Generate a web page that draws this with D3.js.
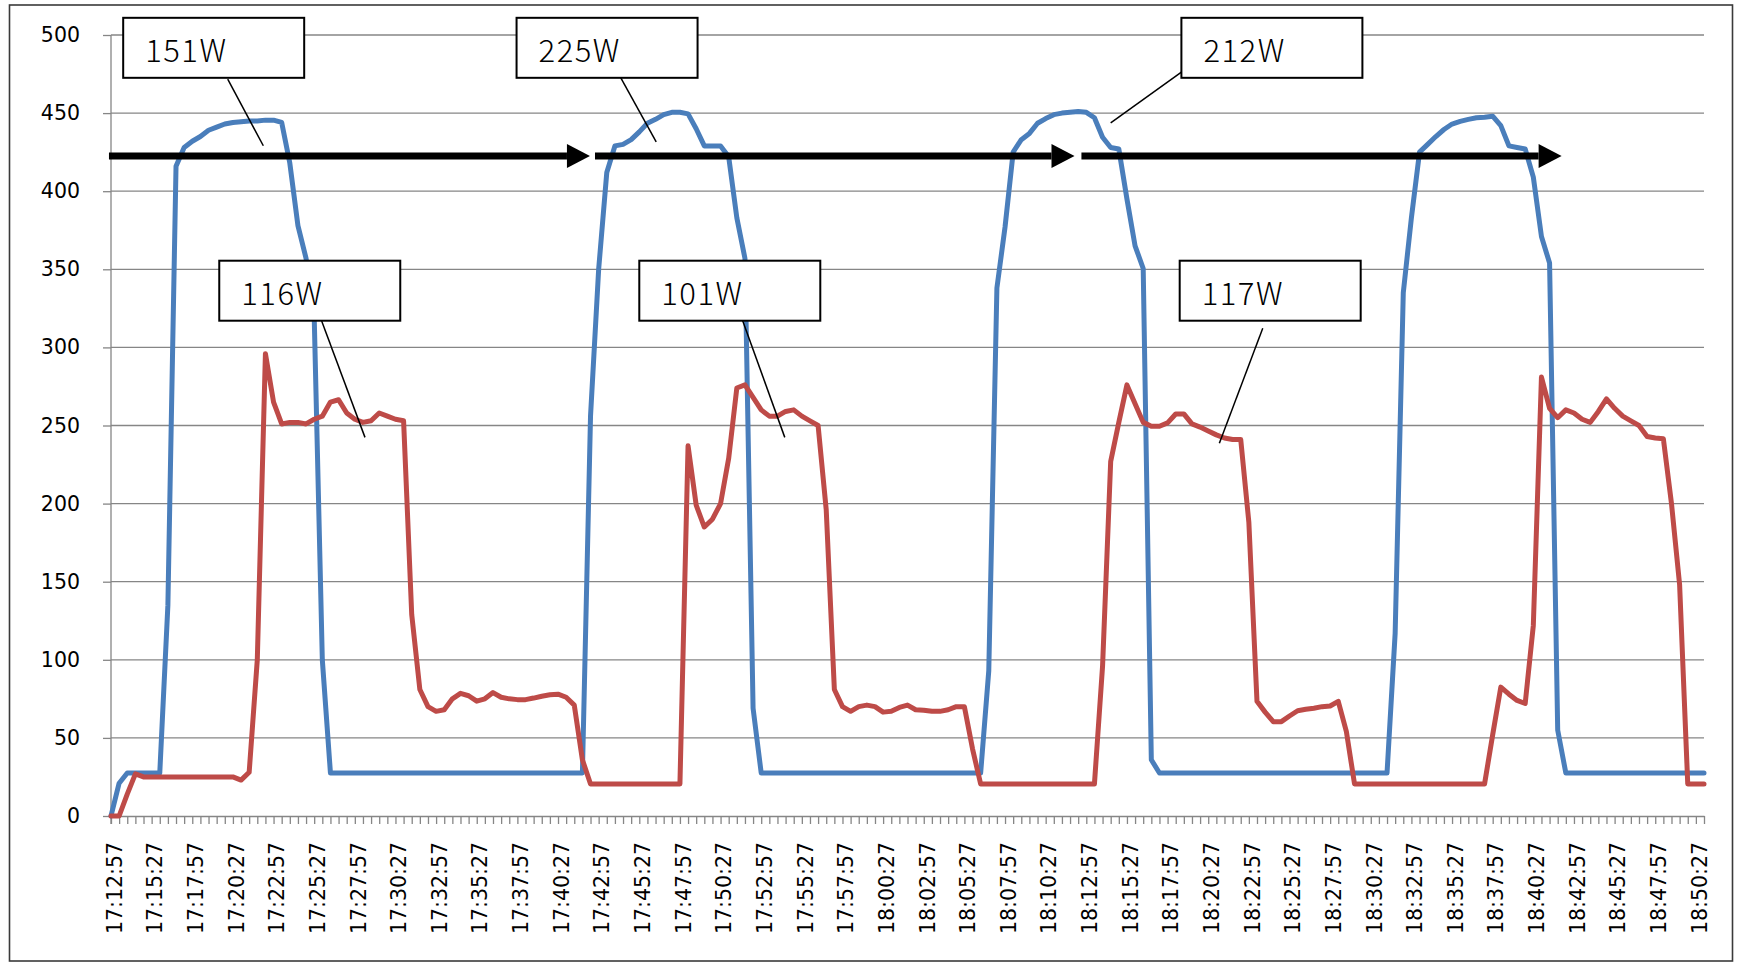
<!DOCTYPE html>
<html>
<head>
<meta charset="utf-8">
<script src="https://cdn.jsdelivr.net/npm/d3@7"></script>
<style>
html, body { margin: 0; padding: 0; background: #fff; }
svg { display: block; }
.axis text { font-family: "DejaVu Sans", sans-serif; font-size: 20.5px; fill: #000; }
.axis path, .axis line { stroke: #868686; stroke-width: 1.3px; }
.callout text { font-family: "Noto Sans CJK JP", sans-serif; font-weight: 300; font-size: 31px; fill: #000; letter-spacing: 1.5px; }
</style>
</head>
<body>
<svg id="chart" width="1738" height="963"></svg>
<script>
// one sample every 30 s, 17:12:57 .. 18:50:57
var tickLabels = ["17:12:57","17:15:27","17:17:57","17:20:27","17:22:57","17:25:27","17:27:57","17:30:27",
  "17:32:57","17:35:27","17:37:57","17:40:27","17:42:57","17:45:27","17:47:57","17:50:27","17:52:57",
  "17:55:27","17:57:57","18:00:27","18:02:57","18:05:27","18:07:57","18:10:27","18:12:57","18:15:27",
  "18:17:57","18:20:27","18:22:57","18:25:27","18:27:57","18:30:27","18:32:57","18:35:27","18:37:57",
  "18:40:27","18:42:57","18:45:27","18:47:57","18:50:27"];

var yTicks = [0, 50, 100, 150, 200, 250, 300, 350, 400, 450, 500];

var blue = [
  0, 21, 27.5, 27.5, 27.5, 27.5, 27.5, 135, 416, 428,
  432, 435, 439, 441, 443, 444, 444.5, 445, 445, 445.5,
  445.5, 444, 418, 378, 357, 320, 100, 27.5, 27.5, 27.5,
  27.5, 27.5, 27.5, 27.5, 27.5, 27.5, 27.5, 27.5, 27.5, 27.5,
  27.5, 27.5, 27.5, 27.5, 27.5, 27.5, 27.5, 27.5, 27.5, 27.5,
  27.5, 27.5, 27.5, 27.5, 27.5, 27.5, 27.5, 27.5, 27.5, 256,
  350, 412, 429, 430, 433, 438, 443.5, 446, 449, 450.5,
  450.5, 449.5, 440, 429, 429, 429, 422, 383, 357, 69,
  27.5, 27.5, 27.5, 27.5, 27.5, 27.5, 27.5, 27.5, 27.5, 27.5,
  27.5, 27.5, 27.5, 27.5, 27.5, 27.5, 27.5, 27.5, 27.5, 27.5,
  27.5, 27.5, 27.5, 27.5, 27.5, 27.5, 27.5, 27.5, 93, 338,
  377, 425, 433, 437, 443.5, 446.5, 449, 450, 450.5, 451,
  450.5, 447, 434.5, 428, 427, 395, 365, 350.5, 36, 27.5,
  27.5, 27.5, 27.5, 27.5, 27.5, 27.5, 27.5, 27.5, 27.5, 27.5,
  27.5, 27.5, 27.5, 27.5, 27.5, 27.5, 27.5, 27.5, 27.5, 27.5,
  27.5, 27.5, 27.5, 27.5, 27.5, 27.5, 27.5, 27.5, 117, 335,
  383, 425, 430, 435, 439.5, 443, 444.7, 446, 447, 447.4,
  448, 442, 429, 428, 427, 409, 371, 354, 55, 27.5,
  27.5, 27.5, 27.5, 27.5, 27.5, 27.5, 27.5, 27.5, 27.5, 27.5,
  27.5, 27.5, 27.5, 27.5, 27.5, 27.5, 27.5
];

var red = [
  0, 0, 14, 27, 25, 25, 25, 25, 25, 25,
  25, 25, 25, 25, 25, 25, 23, 28, 100, 296,
  265, 251, 252, 252, 251, 254, 256, 265, 266.5, 258,
  254, 252, 253, 258, 256, 254, 253, 129, 81, 70,
  67, 68, 75, 78.5, 77, 73.5, 75, 79, 76, 75,
  74.5, 74.5, 75.5, 76.7, 77.6, 78, 76, 71, 36, 20.5,
  20.5, 20.5, 20.5, 20.5, 20.5, 20.5, 20.5, 20.5, 20.5, 20.5,
  20.5, 237, 199, 185, 190, 200, 229, 274, 276, 268,
  260, 256, 256, 259, 260, 256, 253, 250, 196, 81,
  70, 67, 70, 71, 70, 66.5, 67, 69.5, 71, 68,
  67.7, 67, 67, 68, 70, 70, 43, 20.5, 20.5, 20.5,
  20.5, 20.5, 20.5, 20.5, 20.5, 20.5, 20.5, 20.5, 20.5, 20.5,
  20.5, 20.5, 96, 227, 252, 276, 264, 252, 249.5, 249.5,
  251.7, 257.4, 257.4, 251, 249, 246.5, 244, 242, 241, 241,
  188, 73.4, 66.5, 60.4, 60.4, 64, 67.4, 68.3, 69, 70,
  70.4, 73.4, 54, 20.5, 20.5, 20.5, 20.5, 20.5, 20.5, 20.5,
  20.5, 20.5, 20.5, 20.5, 20.5, 20.5, 20.5, 20.5, 20.5, 20.5,
  52, 82.5, 78, 74, 72, 122, 281, 261, 255, 260,
  258, 254, 252, 259, 267, 261, 256, 253, 250, 243,
  242, 241.5, 200, 148, 20.5, 20.5, 20.5
];

// drawn-on annotations, anchored in data units (sample index, watts)
var callouts = [
  {text: "151W", i: 1.5,    v: 511, from: [14.36, 471.8], to: [18.74, 429.1]},
  {text: "225W", i: 49.9,   v: 511, from: [62.71, 472.7], to: [67.08, 431.6]},
  {text: "212W", i: 131.7,  v: 511, from: [131.7, 476.3], to: [123.0, 443.7]},
  {text: "116W", i: 13.32,  v: 355.5, from: [25.92, 316.9], to: [31.25, 242.4]},
  {text: "101W", i: 65.0,   v: 355.5, from: [77.72, 317.1], to: [82.9, 242.4]},
  {text: "117W", i: 131.49, v: 355.5, from: [141.71, 312.2], to: [136.37, 238.6]}
];
var arrows = [
  {start: -0.25, end: 58.93, v: 422.5},
  {start: 59.55, end: 118.55, v: 422.5},
  {start: 119.4, end: 178.48, v: 422.5}
];

var svg = d3.select("#chart");
var plotLeft = 111, plotRight = 1704, plotTop = 35, plotBottom = 816;

var x = d3.scaleLinear().domain([0, blue.length - 1]).range([plotLeft, plotRight]);
var y = d3.scaleLinear().domain([0, 500]).range([plotBottom, plotTop]);

// outer frame
svg.append("rect")
  .attr("x", 9.5).attr("y", 5)
  .attr("width", 1723).attr("height", 956)
  .attr("fill", "#fff")
  .attr("stroke", "#3a3a3a")
  .attr("stroke-width", 1.6);

// horizontal gridlines
svg.append("g")
  .selectAll("line")
  .data(yTicks.slice(1))
  .enter().append("line")
  .attr("x1", plotLeft).attr("x2", plotRight)
  .attr("y1", function (d) { return y(d); })
  .attr("y2", function (d) { return y(d); })
  .attr("stroke", "#868686")
  .attr("stroke-width", 1.3);

// y axis
var gy = svg.append("g")
  .attr("class", "axis")
  .attr("transform", "translate(" + plotLeft + ",0)")
  .call(d3.axisLeft(y).tickValues(yTicks).tickSize(8).tickSizeOuter(0).tickPadding(23));

// x axis, a tick on every sample, a label every 5th
var gx = svg.append("g")
  .attr("class", "axis")
  .attr("transform", "translate(0," + plotBottom + ")")
  .call(d3.axisBottom(x)
    .tickValues(d3.range(blue.length))
    .tickSize(8)
    .tickSizeOuter(0)
    .tickFormat(function (d) { return d % 5 === 0 ? tickLabels[d / 5] : ""; }));

gx.selectAll("text")
  .attr("transform", "rotate(-90)")
  .attr("text-anchor", "end")
  .attr("x", -26)
  .attr("y", 0)
  .attr("dy", "0.5em");

gy.select(".domain").attr("d", "M0," + y(500) + "V" + (plotBottom + 8));

var line = d3.line()
  .x(function (d, i) { return x(i); })
  .y(function (d) { return y(d); });

svg.append("path")
  .datum(blue)
  .attr("d", line)
  .attr("fill", "none")
  .attr("stroke", "#4a7ebb")
  .attr("stroke-width", 5)
  .attr("stroke-linejoin", "round")
  .attr("stroke-linecap", "round");

svg.append("path")
  .datum(red)
  .attr("d", line)
  .attr("fill", "none")
  .attr("stroke", "#be4b48")
  .attr("stroke-width", 5)
  .attr("stroke-linejoin", "round")
  .attr("stroke-linecap", "round");

// thick arrows
var headLen = 23, headHalf = 12;
var ga = svg.append("g");
arrows.forEach(function (a) {
  var x0 = x(a.start), x1 = x(a.end), yy = y(a.v);
  ga.append("line")
    .attr("x1", x0).attr("x2", x1 - headLen)
    .attr("y1", yy).attr("y2", yy)
    .attr("stroke", "#000")
    .attr("stroke-width", 7);
  ga.append("path")
    .attr("d", "M" + (x1 - headLen) + "," + (yy - headHalf) + "L" + x1 + "," + yy + "L" + (x1 - headLen) + "," + (yy + headHalf) + "Z")
    .attr("fill", "#000");
});

// callout boxes
var boxW = 181, boxH = 60;
var gc = svg.append("g").attr("class", "callout");
callouts.forEach(function (c) {
  gc.append("line")
    .attr("x1", x(c.from[0])).attr("y1", y(c.from[1]))
    .attr("x2", x(c.to[0])).attr("y2", y(c.to[1]))
    .attr("stroke", "#000")
    .attr("stroke-width", 1.5);
  gc.append("rect")
    .attr("x", x(c.i)).attr("y", y(c.v))
    .attr("width", boxW).attr("height", boxH)
    .attr("fill", "#fff")
    .attr("stroke", "#000")
    .attr("stroke-width", 2);
  gc.append("text")
    .attr("x", x(c.i) + 22)
    .attr("y", y(c.v) + 44)
    .text(c.text);
});
</script>
</body>
</html>
